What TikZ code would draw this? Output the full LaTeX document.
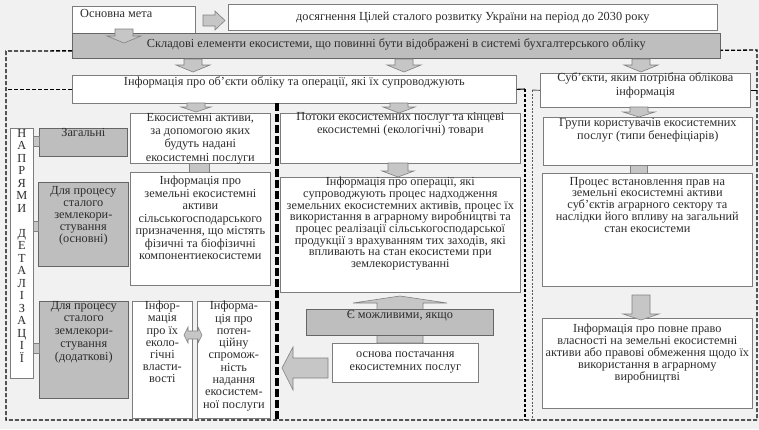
\documentclass[tikz,border=0pt]{standalone}
\usepackage{fontspec}
\setmainfont{Liberation Serif}

\definecolor{bgcol}{RGB}{241,241,241}
\definecolor{boxline}{RGB}{125,125,125}
\definecolor{boxgray}{RGB}{190,190,190}
\definecolor{arrowgray}{RGB}{198,198,198}
\definecolor{textgray}{RGB}{45,45,45}

\newcommand{\arrdown}[6]{%
\filldraw[blockarrow] (#1-#5,#2) -- (#1+#5,#2) -- (#1+#5,#3) -- (#1+#6,#3) -- (#1,#4) -- (#1-#6,#3) -- (#1-#5,#3) -- cycle;}

\begin{document}
\begin{tikzpicture}[x=1pt, y=-1pt,
  box/.style={draw=boxline, fill=white, anchor=north west, inner sep=0pt, line width=0.7pt},
  graybox/.style={box, fill=boxgray, draw=gray!80!black},
  txt/.style={anchor=north, align=center, inner sep=0pt, text=textgray, font=\fontsize{12.3}{12}\selectfont},
  linesp/.style={font=\fontsize{12.3}{#1}\selectfont},
  blockarrow/.style={draw=gray, fill=arrowgray, line width=0.6pt},
  frame/.style={black, line width=1.3pt, dash pattern=on 4pt off 2pt},
  midline/.style={black, line width=3.5pt, dash pattern=on 8pt off 3pt},
  sideline/.style={black, line width=1.1pt, dash pattern=on 3pt off 2pt},
  dotline/.style={gray!70!black, line width=0.9pt, dash pattern=on 2pt off 1.5pt}]
\useasboundingbox (0,0) rectangle (759,429);
\fill[bgcol] (0,0) rectangle (759,429);

% top row
\node[box, minimum width=123pt, minimum height=27pt] (goal) at (72,6) {};
\node[box, minimum width=489pt, minimum height=26pt] (target) at (228,4) {};
\node[graybox, minimum width=648pt, minimum height=25pt] (band) at (72,33) {};
\node[box, minimum width=444pt, minimum height=28pt] (objinfo) at (72,75) {};
\node[box, minimum width=210pt, minimum height=34pt] (subj) at (540,73) {};

% frame
\coordinate (fl) at (6,51);
\coordinate (fb) at (6,420);
\coordinate (fr) at (757,420);
\coordinate (ft) at (757,50);
\draw[frame] ([yshift=-5pt]band.west) -- (fl) -- (fb) -- (fr) -- (ft) -- ([yshift=-4.5pt]band.east);
\draw[frame] (objinfo.west) -- (objinfo.west -| fl);
\coordinate (midtop) at (277,103);
\coordinate (midbot) at (277,420);
\draw[midline] (midtop) -- (midbot);
\coordinate (sidetop) at (525,89);
\coordinate (sidebot) at (525,420);
\draw[black, line width=1.1pt] (objinfo.east) -- (sidetop);
\draw[sideline] (sidetop) -- (sidebot);
\coordinate (dottop) at (532,90);
\coordinate (dotbot) at (532,420);
\draw[gray!70!black, line width=0.9pt] (subj.west) -- (dottop);
\draw[dotline] (dottop) -- (dotbot);
\draw[black, line width=1.1pt] (subj.east) -- (subj.east -| ft);

% left column
\node[box, minimum width=23pt, minimum height=250pt] (directions) at (10,128) {};
\node[graybox, minimum width=88pt, minimum height=28pt] (general) at (39,128) {};
\node[graybox, minimum width=90pt, minimum height=84pt] (mainuse) at (38,182) {};
\node[graybox, minimum width=89pt, minimum height=97pt] (extrause) at (39,301) {};
\node[box, minimum width=140pt, minimum height=50pt] (assets) at (130,113) {};
\node[box, minimum width=140pt, minimum height=113pt] (landinfo) at (130,172) {};
\node[box, minimum width=60pt, minimum height=117pt] (ecoprop) at (132,301) {};
\node[box, minimum width=73pt, minimum height=117pt] (potential) at (197,301) {};

% middle column
\node[box, minimum width=240pt, minimum height=50pt] (flows) at (280,113) {};
\node[box, minimum width=240pt, minimum height=115pt] (operations) at (280,177) {};
\node[box, minimum width=146pt, minimum height=39pt] (supply) at (332,343) {};

% right column
\node[box, minimum width=209pt, minimum height=48pt] (groups) at (543,117) {};
\node[box, minimum width=210pt, minimum height=113pt] (rights) at (542,173) {};
\node[box, minimum width=210pt, minimum height=90pt] (ownership) at (542,318) {};

% stubs
\draw[blockarrow] ([xshift=-11pt]assets.south) rectangle ([xshift=9pt]landinfo.north);
\draw[blockarrow] ([xshift=-18pt]groups.south) rectangle ([xshift=0pt]rights.north);
\draw[blockarrow] (directions.east |- 0,136) rectangle (general.west |- 0,146);
\draw[blockarrow] (directions.east |- 0,221) rectangle (mainuse.west |- 0,231);
\draw[blockarrow] (directions.east |- 0,343) rectangle (extrause.west |- 0,353);

% block arrows
\filldraw[blockarrow] (203,15) -- (215,15) -- (215,11) -- (225,20.5) -- (215,30) -- (215,26) -- (203,26) -- cycle;
\arrdown{124}{29}{36}{43}{9}{17}
\arrdown{193}{59}{65}{72}{9}{17}
\arrdown{404}{59}{65}{72}{9}{17}
\arrdown{641}{59}{65}{72}{9}{17}
\arrdown{196}{103}{107}{112}{9}{15}
\arrdown{399}{103}{107}{113}{9}{16}
\arrdown{398}{163}{171}{177}{10}{16}
\arrdown{639}{107}{112}{117}{9}{16}
\arrdown{641}{295}{314}{320}{9}{18}
\filldraw[blockarrow] (184,335) -- (188,327) -- (188,331) -- (198,331) -- (198,327) -- (202,335) -- (198,343) -- (198,339) -- (188,339) -- (188,343) -- cycle;
\filldraw[blockarrow] (377,343) -- (377,303) -- (353,303) -- (400,296) -- (447,303) -- (423,303) -- (423,343) -- cycle;
\node[graybox, minimum width=187pt, minimum height=26pt] (possible) at (306,309) {};
\filldraw[blockarrow] (328,358) -- (293,358) -- (293,347) -- (282,368) -- (293,390) -- (293,378) -- (328,378) -- cycle;

% texts
\node[txt, anchor=north west] (goaltext) at ([xshift=8pt,yshift=-3pt]goal.north west) {Основна мета};
\node[txt, anchor=center] (targettext) at (target.center) {досягнення Цілей сталого розвитку України на період до 2030 року};
\node[txt, anchor=center] (bandtext) at ([yshift=1pt]band.center) {Складові елементи екосистеми, що повинні бути відображені в системі бухгалтерського обліку};
\node[txt] (objinfotext) at ([yshift=-1pt]objinfo.north) {Інформація про об’єкти обліку та операції, які їх супроводжують};
\node[txt, linesp=14] (subjtext) at ([yshift=1pt]subj.north) {Суб’єкти, яким потрібна облікова\\інформація};
\node[txt, linesp=12.5] (directionstext) at ([yshift=-1pt]directions.north) {Н\\А\\П\\Р\\Я\\М\\И\\[12.5pt]Д\\Е\\Т\\А\\Л\\І\\З\\А\\Ц\\І\\Ї};
\node[txt] (generaltext) at (general.north) {Загальні};
\node[txt] (mainusetext) at ([yshift=-4pt]mainuse.north) {Для процесу\\сталого\\землекори-\\стування\\(основні)};
\node[txt, linesp=12.7] (extrausetext) at (extrause.north) {Для процесу\\сталого\\землекори-\\стування\\(додаткові)};
\node[txt, linesp=13.3] (assetstext) at (assets.north) {Екосистемні активи,\\за допомогою яких\\будуть надані\\екосистемні послуги};
\node[txt, linesp=12.5] (landinfotext) at ([yshift=-4pt]landinfo.north) {Інформація про\\земельні екосистемні\\активи\\сільськогосподарського\\призначення, що містять\\фізичні та біофізичні\\компонентиекосистеми};
\node[txt, linesp=12.2] (ecoproptext) at (ecoprop.north) {Інфор-\\мація\\про їх\\еколо-\\гічні\\власти-\\вості};
\node[txt, linesp=12.3] (potentialtext) at (potential.north) {Інформа-\\ція про\\потен-\\ційну\\спромож-\\ність\\надання\\екосистем-\\ної послуги};
\node[txt, linesp=13] (flowstext) at ([yshift=1pt]flows.north) {Потоки екосистемних послуг та кінцеві\\екосистемні (екологічні) товари};
\node[txt, linesp=11.7] (operationstext) at (operations.north) {Інформація про операції, які\\супроводжують процес надходження\\земельних екосистемних активів, процес їх\\використання в аграрному виробництві та\\процес реалізації сільськогосподарської\\продукції з врахуванням тих заходів, які\\впливають на стан екосистеми при\\землекористуванні};
\node[txt] (possibletext) at ([yshift=-1pt]possible.north) {Є можливими, якщо};
\node[txt, anchor=center, linesp=13] (supplytext) at (supply.center) {основа постачання\\екосистемних послуг};
\node[txt, linesp=13.3] (groupstext) at ([yshift=-1pt]groups.north) {Групи користувачів екосистемних\\послуг (типи бенефіціарів)};
\node[txt, linesp=11.7] (rightstext) at ([yshift=-4pt]rights.north) {Процес встановлення прав на\\земельні екосистемні активи\\суб’єктів аграрного сектору та\\наслідки його впливу на загальний\\стан екосистеми};
\node[txt] (ownershiptext) at ([yshift=-6pt]ownership.north) {Інформація про повне право\\власності на земельні екосистемні\\активи або правові обмеження щодо їх\\використання в аграрному\\виробництві};
\end{tikzpicture}
\end{document}
